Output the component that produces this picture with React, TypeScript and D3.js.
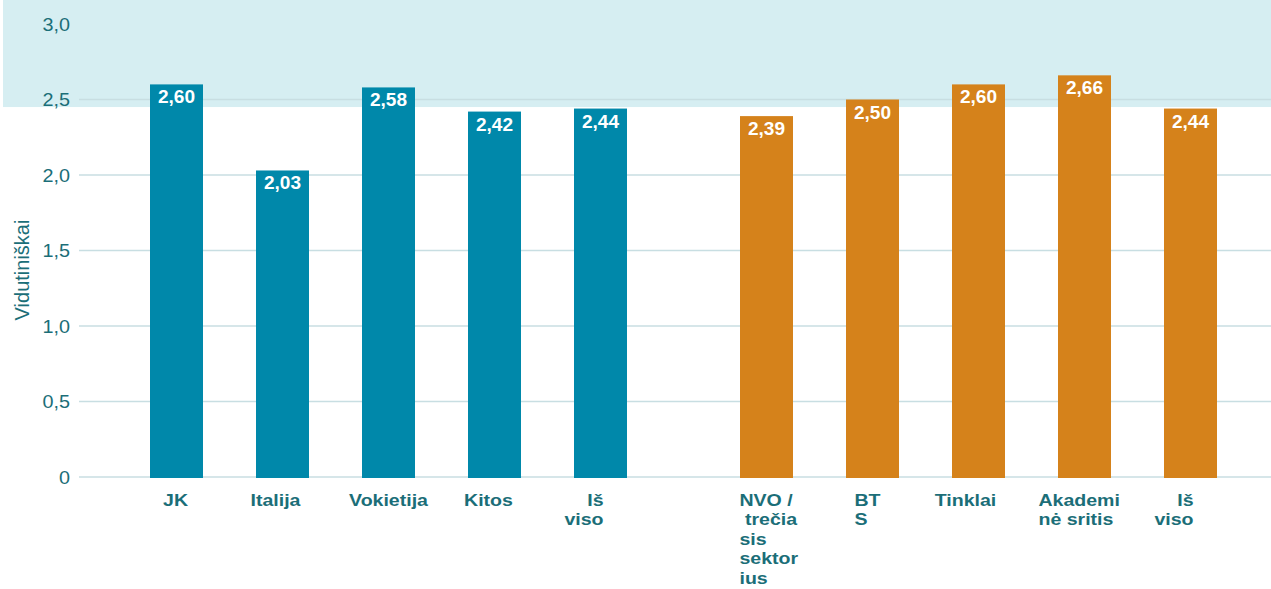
import React, { useEffect } from "react";
import * as d3 from "d3";

// ---- data ----
const groupACategories = ["JK", "Italija", "Vokietija", "Kitos", "Iš viso"];
const groupAValues = [2.6, 2.03, 2.58, 2.42, 2.44];
const groupBCategories = ["NVO / trečiasis sektorius", "BTS", "Tinklai", "Akademinė sritis", "Iš viso"];
const groupBValues = [2.39, 2.5, 2.6, 2.66, 2.44];
// wrapped label lines as they appear in the chart
const groupALabelLines = [["JK"], ["Italija"], ["Vokietija"], ["Kitos"], ["Iš", "viso"]];
const groupBLabelLines = [["NVO /", " trečia", "sis", "sektor", "ius"], ["BT", "S"], ["Tinklai"], ["Akademi", "nė sritis"], ["Iš", "viso"]];
const yTicks = [0, 0.5, 1.0, 1.5, 2.0, 2.5, 3.0];
const yTickLabels = ["0", "0,5", "1,0", "1,5", "2,0", "2,5", "3,0"];
const yAxisTitle = "Vidutiniškai";
const bandFrom = 2.45; // shaded region lower bound

// ---- layout / style ----
const W = 1271;
const H = 589;
const BLUE = "#0088AA";
const ORANGE = "#D5821B";
const TEXT = "#1B6E78";
const GRID = "#C8DEE2";
const BAND = "#D6EEF2";
const FONT = "'Liberation Sans', Arial, sans-serif";
const GROUP_GAP = 60;
// label alignment per bar (anchor, dx relative to bar centre)
const labelAlignA: [string, number][] = [["middle", -1], ["middle", -7], ["middle", 0], ["middle", -6], ["end", 3]];
const labelAlignB: [string, number][] = [["start", -27], ["start", -18], ["middle", -13], ["start", -46], ["end", 3]];

type Bar = { key: string; value: number; group: number; lines: string[]; align: [string, number] };

const bars: Bar[] = [
  ...groupACategories.map((c, i) => ({ key: "a" + i + c, value: groupAValues[i], group: 0, lines: groupALabelLines[i], align: labelAlignA[i] })),
  ...groupBCategories.map((c, i) => ({ key: "b" + i + c, value: groupBValues[i], group: 1, lines: groupBLabelLines[i], align: labelAlignB[i] })),
];

export default function App() {
  useEffect(() => {
    document.body.style.margin = "0";
  }, []);

  const y = d3.scaleLinear().domain([0, 3]).range([477, 24]);
  const x = d3
    .scaleBand<string>()
    .domain(bars.map((b) => b.key))
    .range([123.5, 1183.5])
    .paddingInner(0.5)
    .paddingOuter(0.25);
  const bw = x.bandwidth();
  const bx = (b: Bar) => (x(b.key) as number) + (b.group === 1 ? GROUP_GAP : 0);

  return (
    <svg width={W} height={H} style={{ display: "block", fontFamily: FONT }}>
      <rect x={3} y={0} width={W - 3} height={y(bandFrom)} fill={BAND} />
      {yTicks.filter((t) => t < 3).map((t) => (
        <line key={t} x1={79} x2={W} y1={y(t)} y2={y(t)} stroke={GRID} strokeWidth={1.5} />
      ))}
      {yTicks.map((t, i) => (
        <text
          key={"t" + t}
          transform={`translate(70, ${y(t) + 6.5}) scale(1.1, 1)`}
          textAnchor="end"
          fontSize={18}
          fill={TEXT}
        >
          {yTickLabels[i]}
        </text>
      ))}
      <text transform={`translate(29, ${270}) rotate(-90)`} textAnchor="middle" fontSize={20} fill={TEXT}>
        {yAxisTitle}
      </text>
      {bars.map((b) => {
        const x0 = bx(b);
        const cx = x0 + bw / 2;
        const top = y(b.value);
        const [anchor, dx] = b.align;
        return (
          <g key={b.key}>
            <rect x={x0} y={top} width={bw} height={y(0) - top + 1} fill={b.group === 0 ? BLUE : ORANGE} />
            <text
              transform={`translate(${cx}, ${top + 19}) scale(1.06, 1)`}
              textAnchor="middle"
              fontSize={18}
              fontWeight="bold"
              fill="#fff"
            >
              {d3.format(".2f")(b.value).replace(".", ",")}
            </text>
            <text
              transform={`translate(${cx + dx}, 506) scale(1.15, 1)`}
              fontSize={17}
              fontWeight="bold"
              fill={TEXT}
              textAnchor={anchor}
            >
              {b.lines.map((l, i) => (
                <tspan key={i} x={0} y={i * 19.5} style={{ whiteSpace: "pre" }}>
                  {l}
                </tspan>
              ))}
            </text>
          </g>
        );
      })}
    </svg>
  );
}
